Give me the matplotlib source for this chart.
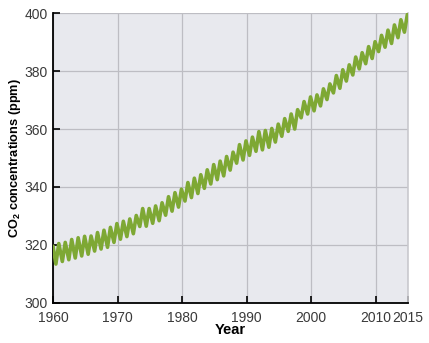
import matplotlib
matplotlib.use("Agg")
import matplotlib.pyplot as plt

# yearly seasonal extremes (ppm)
years = list(range(1960, 2015))
troughs = [313.3, 314.2, 314.8, 315.4, 316.1, 316.7, 317.8, 318.5, 319.1, 320.8,
           321.9, 322.8, 323.8, 326.3, 326.4, 327.4, 328.3, 330.2, 331.6, 333.0,
           335.1, 336.3, 337.7, 339.5, 341.0, 342.5, 343.8, 345.8, 348.2, 349.3,
           350.9, 352.3, 352.8, 353.7, 355.5, 357.5, 359.2, 360.0, 363.9, 365.2,
           366.3, 368.0, 370.2, 372.5, 374.1, 376.6, 378.7, 380.8, 382.6, 384.4,
           386.8, 388.3, 389.6, 391.6, 393.5]
peaks = [320.4, 320.8, 321.8, 322.4, 322.9, 323.0, 324.2, 325.0, 326.0, 327.3,
         328.1, 328.9, 330.1, 332.5, 332.5, 333.4, 334.5, 336.6, 338.0, 339.2,
         341.5, 343.0, 344.2, 345.9, 347.7, 348.9, 350.5, 352.0, 354.6, 355.9,
         357.2, 359.1, 359.5, 360.2, 361.7, 363.6, 365.2, 366.7, 369.5, 371.1,
         371.8, 373.9, 375.6, 378.5, 380.5, 382.2, 384.9, 386.4, 388.5, 390.2,
         392.4, 394.2, 396.0, 397.8, 399.6]
start_value = 319.5

x = [1960.0]
y = [start_value]
for yr, lo, hi in zip(years, troughs, peaks):
    x += [yr + 0.45, yr + 0.9]
    y += [lo, hi]

plt.rcParams['font.family'] = ['Liberation Sans', 'DejaVu Sans']
plt.rcParams['mathtext.fontset'] = 'custom'
plt.rcParams['mathtext.rm'] = 'Liberation Sans'
plt.rcParams['mathtext.bf'] = 'Liberation Sans:bold'

fig = plt.figure(figsize=(4.29, 3.43), dpi=100)
ax = fig.add_axes([0.1235, 0.118, 0.8275, 0.843])
ax.set_facecolor('#e8e9ee')

ax.plot(x, y, color='#7ea834', lw=2.6, solid_joinstyle='round', solid_capstyle='round', zorder=3)

ax.set_xlim(1960, 2015)
ax.set_ylim(300, 400)
ax.set_xticks([1960, 1970, 1980, 1990, 2000, 2010, 2015])
ax.set_yticks(range(300, 401, 20))
ax.grid(True, color='#bdbdc3', lw=0.9, zorder=1)
ax.set_axisbelow(True)

ax.spines['top'].set_visible(False)
ax.spines['right'].set_color('#c9c9ce')
ax.spines['right'].set_linewidth(1.2)
ax.spines['left'].set_linewidth(1.3)
ax.spines['bottom'].set_linewidth(1.3)

ax.tick_params(direction='in', length=5, width=1.2, colors='black',
               labelcolor='#3a3a3a', labelsize=10, pad=4)
ax.tick_params(axis='x', pad=6)

ax.set_xlabel('Year', fontsize=10.5, fontweight='bold', labelpad=-1)
ax.set_ylabel(r'CO$_\mathbf{2}$ concentrations (ppm)', fontsize=9.2, fontweight='bold', labelpad=1)

plt.savefig('out.png', dpi=100)
plt.close()
